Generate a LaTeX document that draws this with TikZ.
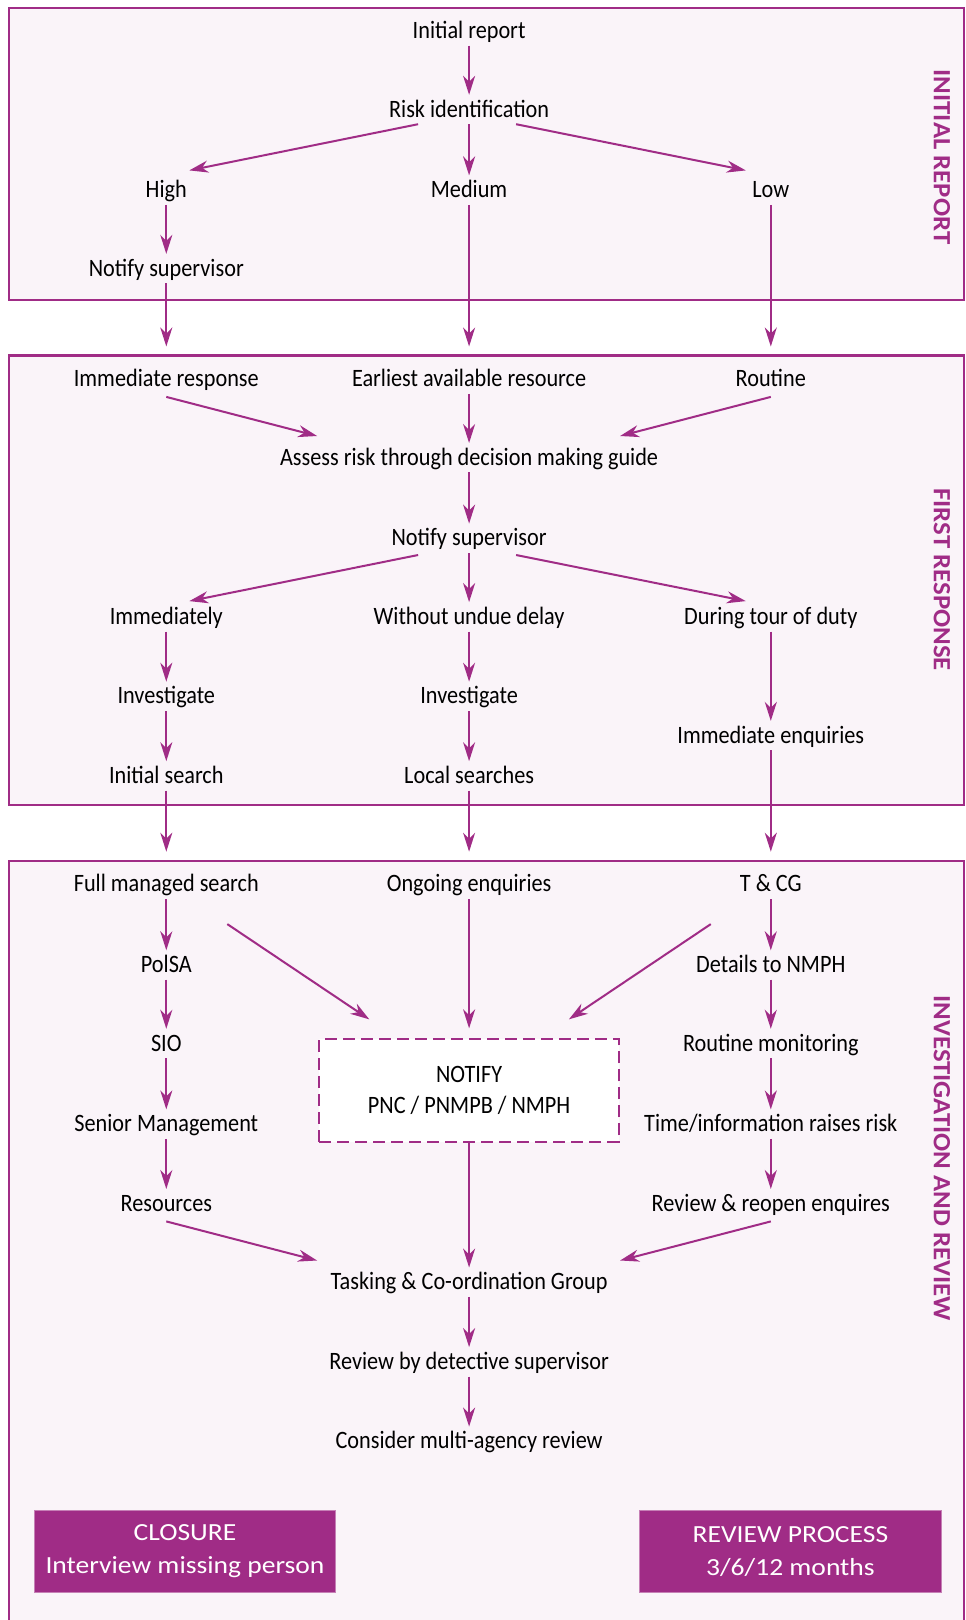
\documentclass[tikz,border=0pt]{standalone}
\usepackage{fontspec}
\setmainfont{Carlito}[FakeStretch=0.89]
\newfontfamily\sidefont{Carlito}[FakeStretch=1.08]
\newfontfamily\boxfont{Carlito}[FakeStretch=1.12]
\usetikzlibrary{arrows.meta}
\definecolor{plum}{RGB}{160,44,134}
\definecolor{panelbg}{RGB}{250,244,249}
\tikzset{
  panel/.style={draw=plum, line width=2.2pt, fill=panelbg},
  txt/.style={inner sep=0pt, text height=18pt, text depth=3pt,
              minimum height=29pt},
  arr/.style={-{Stealth[length=19pt, width=12pt, inset=6pt]}, draw=plum,
              line width=2pt},
  cross/.style={arr, shorten >=18pt},
  sidelbl/.style={rotate=-90, text=plum, inner sep=0pt,
                  font=\sidefont\bfseries\fontsize{24.8}{28}\selectfont},
  dashbox/.style={draw=plum, dash pattern=on 12pt off 6pt, line width=2pt,
                  fill=white, minimum width=299.6pt, minimum height=102.3pt,
                  align=center, font=\fontsize{25}{31}\selectfont},
  endbox/.style={fill=plum, draw=plum!60, line width=0.8pt, text=white,
                 minimum width=301.7pt, minimum height=81.7pt, align=center,
                 font=\boxfont\fontsize{24.6}{33}\selectfont},
}

\begin{document}
\begin{tikzpicture}[x=1pt, y=1pt, font=\fontsize{25}{30}\selectfont]
\useasboundingbox (0,0) rectangle (966,-1620);

% panels
\draw[panel] (9.3,-8.3) rectangle (964,-299.6);
\draw[panel] (9.3,-355.4) rectangle (964,-804.9);
\draw[panel] (9.3,-860.6) rectangle (964,-1640);

\node[sidelbl] (lblA) at (942,-157) {INITIAL REPORT};
\node[sidelbl] (lblB) at (942,-579.6) {FIRST RESPONSE};
\node[sidelbl] (lblC) at (942,-1158) {INVESTIGATION AND REVIEW};

% initial report
\node[txt] (init) at (469.1,-31) {Initial report};
\node[txt] (riskid) at (469.1,-109.5) {Risk identification};
\node[txt] (high) at (166.3,-190.1) {High};
\node[txt] (medium) at (469.1,-190.1) {Medium};
\node[txt] (low) at (770.8,-190.1) {Low};
\node[txt] (notifyA) at (166.3,-268.6) {Notify supervisor};

% first response
\node[txt] (immresp) at (166.3,-379.2) {Immediate response};
\node[txt] (earliest) at (469.1,-379.2) {Earliest available resource};
\node[txt] (routine) at (770.8,-379.2) {Routine};
\node[txt] (assess) at (469.1,-457.7) {Assess risk through decision making guide};
\node[txt] (notifyB) at (469.1,-538.3) {Notify supervisor};
\node[txt] (immed) at (166.3,-616.8) {Immediately};
\node[txt] (undue) at (469.1,-616.8) {Without undue delay};
\node[txt] (tour) at (770.8,-616.8) {During tour of duty};
\node[txt] (investA) at (166.3,-696.4) {Investigate};
\node[txt] (investB) at (469.1,-696.4) {Investigate};
\node[txt] (immenq) at (770.8,-735.6) {Immediate enquiries};
\node[txt] (initsearch) at (166.3,-775.9) {Initial search};
\node[txt] (localsearch) at (469.1,-775.9) {Local searches};

% investigation and review
\node[txt] (fullsearch) at (166.3,-884.4) {Full managed search};
\node[txt] (ongoing) at (469.1,-884.4) {Ongoing enquiries};
\node[txt] (tcg) at (770.8,-884.4) {T \& CG};
\node[txt] (polsa) at (166.3,-965) {PolSA};
\node[txt] (nmph) at (770.8,-965) {Details to NMPH};
\node[txt] (sio) at (166.3,-1043.5) {SIO};
\node[txt] (monitor) at (770.8,-1043.5) {Routine monitoring};
\node[dashbox] (notifybox) at (469.1,-1090.5) {NOTIFY\\PNC / PNMPB / NMPH};
\node[txt] (senior) at (166.3,-1124.1) {Senior Management};
\node[txt] (raises) at (770.8,-1124.1) {Time/information raises risk};
\node[txt] (resources) at (166.3,-1203.7) {Resources};
\node[txt] (reopen) at (770.8,-1203.7) {Review \& reopen enquires};
\node[txt] (tasking) at (469.1,-1282.2) {Tasking \& Co-ordination Group};
\node[txt] (detective) at (469.1,-1361.8) {Review by detective supervisor};
\node[txt] (multiagency) at (469.1,-1441.3) {Consider multi-agency review};

\node[endbox] (closure) at (185,-1551.4) {CLOSURE\\Interview missing person};
\node[endbox] (reviewproc) at (790.4,-1551.4) {REVIEW PROCESS\\3/6/12 months};

% arrows, initial report
\draw[arr] (init) -- (riskid);
\draw[arr] ([xshift=-51pt]riskid.south) -- ([xshift=23pt,yshift=5pt]high.north);
\draw[arr] (riskid) -- (medium);
\draw[arr] ([xshift=47pt]riskid.south) -- ([xshift=-25pt,yshift=5pt]low.north);
\draw[arr] (high) -- (notifyA);
\draw[cross] (notifyA) -- (immresp);
\draw[cross] (medium) -- (earliest);
\draw[cross] (low) -- (routine);

% arrows, first response
\draw[arr] ([yshift=-3pt]immresp.south) -- ([xshift=-152pt,yshift=7pt]assess.north);
\draw[arr] (earliest) -- (assess);
\draw[arr] ([yshift=-3pt]routine.south) -- ([xshift=151pt,yshift=7pt]assess.north);
\draw[arr] (assess) -- (notifyB);
\draw[arr] ([xshift=-51pt,yshift=-2pt]notifyB.south) -- ([xshift=23pt,yshift=1pt]immed.north);
\draw[arr] (notifyB) -- (undue);
\draw[arr] ([xshift=47pt,yshift=-2pt]notifyB.south) -- ([xshift=-25pt,yshift=1pt]tour.north);
\draw[arr] (immed) -- (investA);
\draw[arr] (investA) -- (initsearch);
\draw[arr] (undue) -- (investB);
\draw[arr] (investB) -- (localsearch);
\draw[arr] (tour) -- (immenq);
\draw[cross] (initsearch) -- (fullsearch);
\draw[cross] (localsearch) -- (ongoing);
\draw[cross] (immenq) -- (tcg);

% arrows, investigation and review
\draw[arr] (fullsearch) -- (polsa);
\draw[arr] ([xshift=61pt,yshift=-25pt]fullsearch.south) -- ([xshift=51pt,yshift=19pt]notifybox.north west);
\draw[arr, shorten >=10pt] (ongoing) -- (notifybox);
\draw[arr] ([xshift=-60pt,yshift=-25pt]tcg.south) -- ([xshift=-51pt,yshift=19pt]notifybox.north east);
\draw[arr] (tcg) -- (nmph);
\draw[arr] (polsa) -- (sio);
\draw[arr] (sio) -- (senior);
\draw[arr] (senior) -- (resources);
\draw[arr] (nmph) -- (monitor);
\draw[arr] (monitor) -- (raises);
\draw[arr] (raises) -- (reopen);
\draw[arr] ([yshift=-3pt]resources.south) -- ([xshift=-152pt,yshift=7pt]tasking.north);
\draw[arr] (notifybox) -- (tasking);
\draw[arr] ([yshift=-3pt]reopen.south) -- ([xshift=151pt,yshift=7pt]tasking.north);
\draw[arr] (tasking) -- (detective);
\draw[arr] (detective) -- (multiagency);

\end{tikzpicture}
\end{document}
